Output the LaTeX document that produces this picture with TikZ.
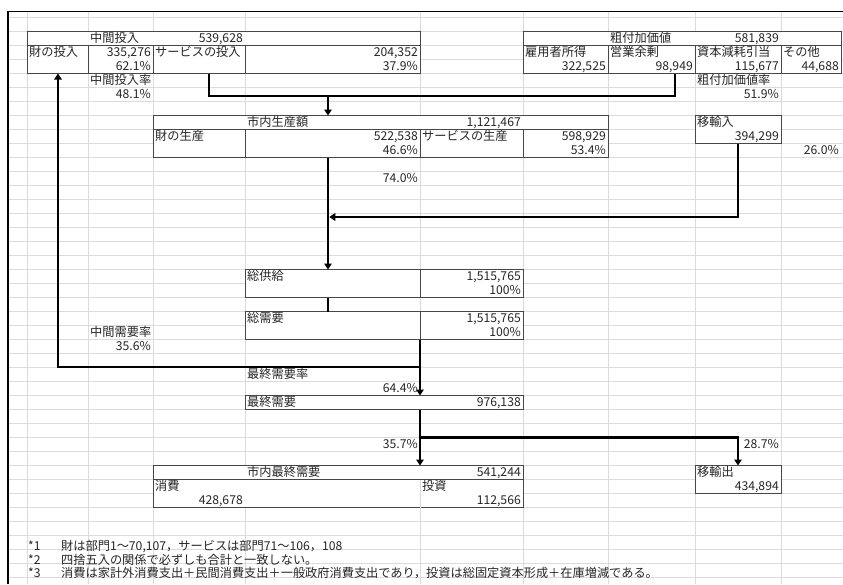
\documentclass[tikz,border=0pt]{standalone}
\usepackage{fontspec}
\setmainfont{Noto Sans CJK JP}
\usetikzlibrary{arrows.meta}
\newcommand\cellfs{\fontsize{12.2}{14}\selectfont}
\begin{document}
\begin{tikzpicture}[x=1pt,y=-1pt,
  gridl/.style={draw=black!14, line width=0.8pt},
  boxline/.style={draw=black!72, line width=0.9pt},
  cellbox/.style={boxline, fill=white, rectangle, inner sep=0pt, outer sep=0pt, anchor=north west},
  conn/.style={draw=black, line width=2.6pt},
  arr/.style={conn, -{Triangle[length=6pt,width=7.5pt]}},
  lt/.style={anchor=base west, inner sep=0pt, font=\cellfs, text=black!85},
  rt/.style={anchor=base east, inner sep=0pt, font=\cellfs, text=black!85}]
\useasboundingbox (0,0) rectangle (843,584);
\fill[white] (0,0) rectangle (843,584);
% grid
\foreach \gx in {27,88,153,245,420,523,608,695,781}
  \draw[gridl] (\gx,11.5) -- (\gx,584);
\foreach \r in {0,...,37}
  \draw[gridl] (8,17.5+14*\r) -- (843,17.5+14*\r);
\foreach \gy in {549.5,563.5,577.5}
  \draw[gridl] (8,\gy) -- (843,\gy);
% frame
\draw[black, line width=1.2pt] (8,584) -- (8,11.5) -- (843,11.5);

% boxes
\node[cellbox, minimum width=393pt, minimum height=42pt] (b1) at (27,31.5) {};
\draw[boxline] (27,45.5) -- (420,45.5);
\foreach \vx in {88,153,245} \draw[boxline] (\vx,45.5) -- (\vx,73.5);

\node[cellbox, minimum width=318pt, minimum height=42pt] (b2) at (523,31.5) {};
\draw[boxline] (523,45.5) -- (841,45.5);
\foreach \vx in {608,695,781} \draw[boxline] (\vx,45.5) -- (\vx,73.5);

\node[cellbox, minimum width=455pt, minimum height=42pt] (b3) at (153,115.5) {};
\draw[boxline] (153,129.5) -- (608,129.5);
\foreach \vx in {245,420,523} \draw[boxline] (\vx,129.5) -- (\vx,157.5);

\node[cellbox, minimum width=86pt, minimum height=28pt] (b4) at (695,115.5) {};

\node[cellbox, minimum width=278pt, minimum height=28pt] (b5) at (245,269.5) {};
\draw[boxline] (420,269.5) -- (420,297.5);
\node[cellbox, minimum width=278pt, minimum height=28pt] (b6) at (245,311.5) {};
\draw[boxline] (420,311.5) -- (420,339.5);
\node[cellbox, minimum width=278pt, minimum height=14pt] (b7) at (245,395.5) {};

\node[cellbox, minimum width=370pt, minimum height=42pt] (b8) at (153,465.5) {};
\draw[gridl] (420,479.5) -- (420,507.5);
\draw[boxline] (153,479.5) -- (523,479.5);
\node[cellbox, minimum width=86pt, minimum height=28pt] (b9) at (695,465.5) {};

% texts: box 1
\node[lt] (t101) at (90,42.5) {中間投入};
\node[rt] (t102) at (243,42.5) {539,628};
\node[lt] (t103) at (29,56.5) {財の投入};
\node[rt] (t104) at (151,56.5) {335,276};
\node[lt] (t105) at (155,56.5) {サービスの投入};
\node[rt] (t106) at (418,56.5) {204,352};
\node[rt] (t107) at (151,70.5) {62.1\%};
\node[rt] (t108) at (418,70.5) {37.9\%};
\node[lt] (t109) at (90,84.5) {中間投入率};
\node[rt] (t110) at (151,98.5) {48.1\%};
% box 2
\node[lt] (t201) at (610,42.5) {粗付加価値};
\node[rt] (t202) at (779,42.5) {581,839};
\node[lt] (t203) at (525,56.5) {雇用者所得};
\node[lt] (t204) at (610,56.5) {営業余剰};
\node[lt] (t205) at (697,56.5) {資本減耗引当};
\node[lt] (t206) at (783,56.5) {その他};
\node[rt] (t207) at (606,70.5) {322,525};
\node[rt] (t208) at (693,70.5) {98,949};
\node[rt] (t209) at (779,70.5) {115,677};
\node[rt] (t210) at (839,70.5) {44,688};
\node[lt] (t211) at (697,84.5) {粗付加価値率};
\node[rt] (t212) at (779,98.5) {51.9\%};
% box 3, 4
\node[lt] (t301) at (247,126.5) {市内生産額};
\node[rt] (t302) at (521,126.5) {1,121,467};
\node[lt] (t303) at (155,140.5) {財の生産};
\node[rt] (t304) at (418,140.5) {522,538};
\node[lt] (t305) at (422,140.5) {サービスの生産};
\node[rt] (t306) at (606,140.5) {598,929};
\node[rt] (t307) at (418,154.5) {46.6\%};
\node[rt] (t308) at (606,154.5) {53.4\%};
\node[lt] (t401) at (697,126.5) {移輸入};
\node[rt] (t402) at (779,140.5) {394,299};
\node[rt] (t403) at (839,154.5) {26.0\%};
\node[rt] (t404) at (418,182.5) {74.0\%};
% supply / demand
\node[lt] (t501) at (247,280.5) {総供給};
\node[rt] (t502) at (521,280.5) {1,515,765};
\node[rt] (t503) at (521,294.5) {100\%};
\node[lt] (t601) at (247,322.5) {総需要};
\node[rt] (t602) at (521,322.5) {1,515,765};
\node[rt] (t603) at (521,336.5) {100\%};
\node[lt] (t604) at (90,336.5) {中間需要率};
\node[rt] (t605) at (151,350.5) {35.6\%};
\node[lt] (t701) at (247,378.5) {最終需要率};
\node[rt] (t702) at (418,392.5) {64.4\%};
\node[lt] (t703) at (247,406.5) {最終需要};
\node[rt] (t704) at (521,406.5) {976,138};
\node[rt] (t705) at (418,448.5) {35.7\%};
\node[rt] (t706) at (779,448.5) {28.7\%};
% final demand
\node[lt] (t801) at (247,476.5) {市内最終需要};
\node[rt] (t802) at (521,476.5) {541,244};
\node[lt] (t803) at (155,490.5) {消費};
\node[rt] (t804) at (243,504.5) {428,678};
\node[lt] (t805) at (422,490.5) {投資};
\node[rt] (t806) at (521,504.5) {112,566};
\node[lt] (t901) at (697,476.5) {移輸出};
\node[rt] (t902) at (779,490.5) {434,894};
% footnotes
\node[lt] (f1a) at (28,550.5) {*1};
\node[lt] (f1b) at (61,550.5) {財は部門1～70,107，サービスは部門71～106，108};
\node[lt] (f2a) at (28,564) {*2};
\node[lt] (f2b) at (61,564) {四捨五入の関係で必ずしも合計と一致しない。};
\node[lt] (f3a) at (28,577.5) {*3};
\node[lt] (f3b) at (61,577.5) {消費は家計外消費支出＋民間消費支出＋一般政府消費支出であり，投資は総固定資本形成＋在庫増減である。};

% connectors
\coordinate (c1) at (209,73.5);
\coordinate (c2) at (675,73.5);
\coordinate (j1) at (328,96);
\coordinate (j2) at (328,217);
\coordinate (j3) at (420,367);
\coordinate (c4) at (58,367);
\coordinate (j4) at (420,437.5);
\draw[conn] (b1.south -| c1) |- (j1) -| (b2.south -| c2);
\draw[arr] (j1) -- (b3.north -| j1);
\draw[arr] (b3.south -| j1) -- (b5.north -| j1);
\draw[arr, shorten >=1.3pt] (b4.south) |- (j2);
\draw[conn] (b5.south -| j1) -- (b6.north -| j1);
\draw[arr] (b6.south -| j3) -- (b7.north -| j3);
\draw[arr] (j3) -| (b1.south -| c4);
\draw[arr] (b7.south -| j4) -- (b8.north -| j4);
\draw[arr] (j4) -| (b9.north);
\end{tikzpicture}
\end{document}
